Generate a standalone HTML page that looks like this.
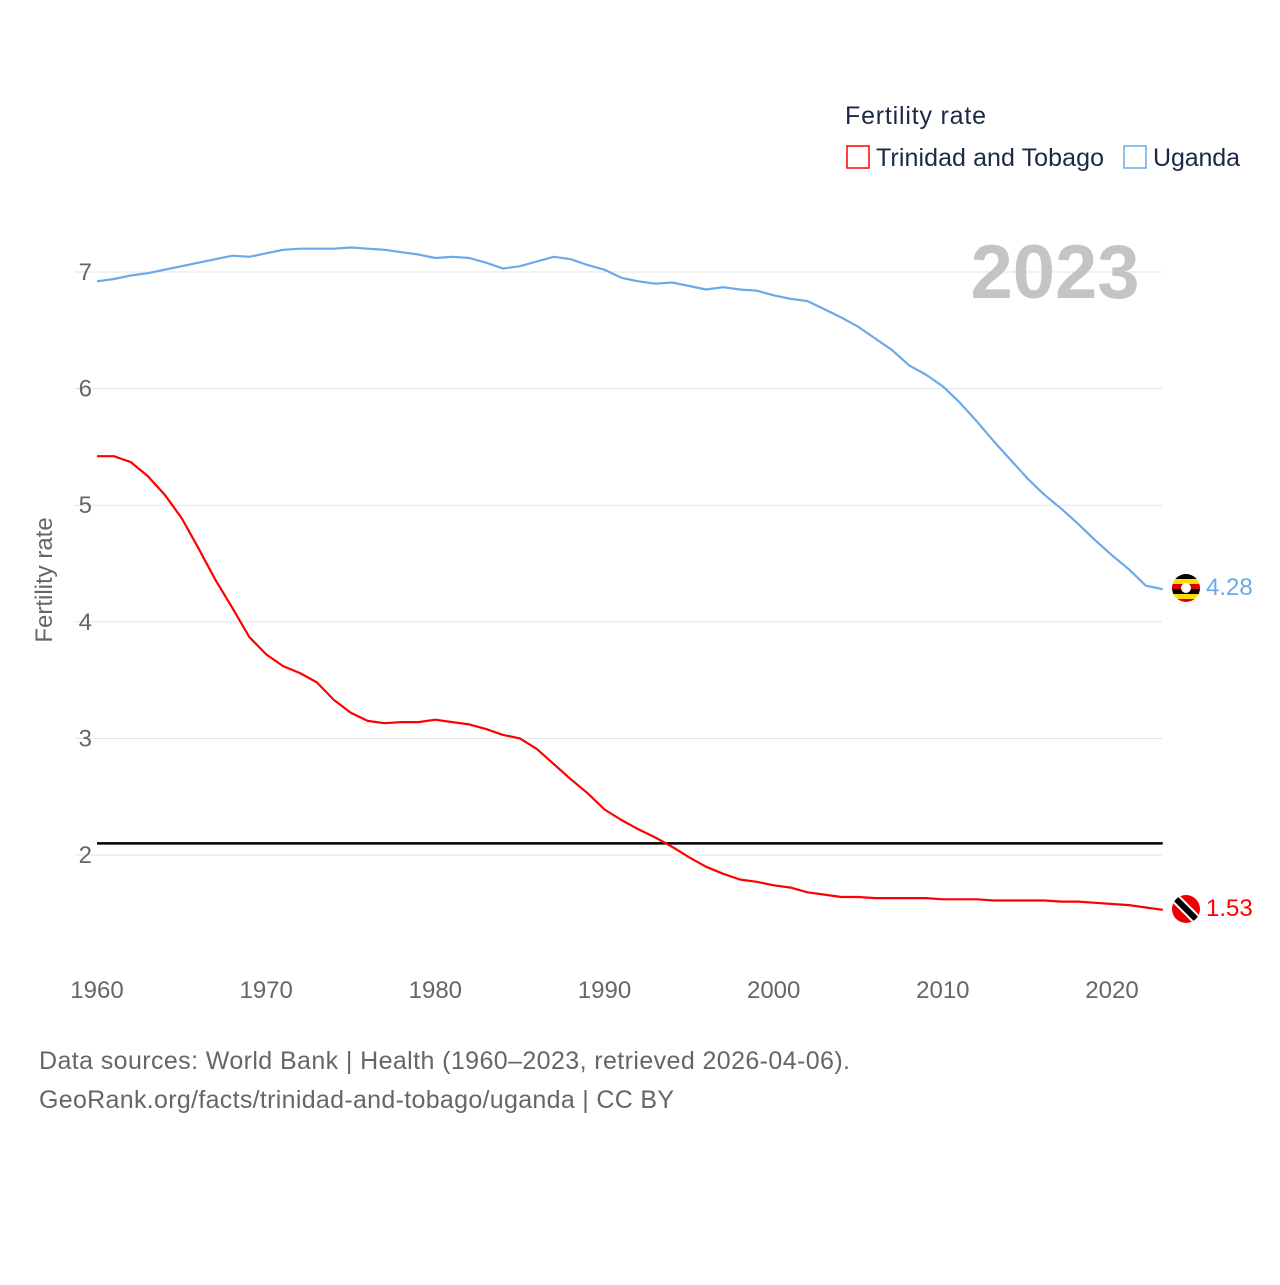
<!DOCTYPE html>
<html><head><meta charset="utf-8"><style>
body{margin:0;background:#fff;font-family:"Liberation Sans",sans-serif}
svg text{font-family:"Liberation Sans",sans-serif}
</style></head><body>
<svg width="1280" height="1280" viewBox="0 0 1280 1280">
<g id="grid"></g>
<g id="xt"></g>
<text x="1055" y="298" font-size="76" font-weight="bold" fill="#c4c4c4" text-anchor="middle">2023</text>
<text x="52" y="580" font-size="24" fill="#666" text-anchor="middle" transform="rotate(-90 52 580)">Fertility rate</text>
<g>
<text x="845" y="124" font-size="25" fill="#1a2a44" textLength="141">Fertility rate</text>
<g><rect x="847" y="146" width="22" height="22" fill="none" stroke="#f00" stroke-width="1.5"/><text x="876" y="166" font-size="25" fill="#1a2a44" textLength="228">Trinidad and Tobago</text></g>
<g><rect x="1124" y="146" width="22" height="22" fill="none" stroke="#6aa9ea" stroke-width="1.5"/><text x="1153" y="166" font-size="25" fill="#1a2a44" textLength="87">Uganda</text></g>
</g>
<g id="series"></g>
<g>
<clipPath id="cu"><circle cx="1186" cy="588" r="14"/></clipPath>
<g clip-path="url(#cu)"><rect x="1170" y="574" width="32" height="5" fill="#000"/><rect x="1170" y="579" width="32" height="5" fill="#fcdc04"/><rect x="1170" y="584" width="32" height="5" fill="#d90000"/><rect x="1170" y="589" width="32" height="5" fill="#000"/><rect x="1170" y="594" width="32" height="5" fill="#fcdc04"/><rect x="1170" y="599" width="32" height="5" fill="#d90000"/><circle cx="1186" cy="588" r="5" fill="#fff"/></g>
<text x="1206" y="595" font-size="24" fill="#6aa9ea">4.28</text>
</g>
<g>
<clipPath id="ct"><circle cx="1186" cy="909" r="14"/></clipPath>
<g clip-path="url(#ct)"><rect x="1170" y="893" width="32" height="32" fill="#e00"/><line x1="1174" y1="897" x2="1198" y2="921" stroke="#fff" stroke-width="10"/><line x1="1174" y1="897" x2="1198" y2="921" stroke="#000" stroke-width="6"/></g>
<text x="1206" y="916" font-size="24" fill="#f00">1.53</text>
</g>
<text x="39" y="1069" font-size="25" fill="#666" textLength="811">Data sources: World Bank | Health (1960–2023, retrieved 2026-04-06).</text>
<text x="39" y="1108" font-size="25" fill="#666" textLength="635">GeoRank.org/facts/trinidad-and-tobago/uganda | CC BY</text>
</svg>
<script>
const years=[];for(let y=1960;y<=2023;y++)years.push(y);
const uganda=[6.92,6.94,6.97,6.99,7.02,7.05,7.08,7.11,7.14,7.13,7.16,7.19,7.20,7.20,7.20,7.21,7.20,7.19,7.17,7.15,7.12,7.13,7.12,7.08,7.03,7.05,7.09,7.13,7.11,7.06,7.02,6.95,6.92,6.90,6.91,6.88,6.85,6.87,6.85,6.84,6.80,6.77,6.75,6.68,6.61,6.53,6.43,6.33,6.20,6.12,6.02,5.88,5.72,5.55,5.39,5.23,5.09,4.97,4.84,4.70,4.57,4.45,4.31,4.28];
const trinidad=[5.42,5.42,5.37,5.25,5.09,4.89,4.63,4.36,4.12,3.87,3.72,3.62,3.56,3.48,3.33,3.22,3.15,3.13,3.14,3.14,3.16,3.14,3.12,3.08,3.03,3.00,2.91,2.78,2.65,2.53,2.39,2.30,2.22,2.15,2.07,1.98,1.90,1.84,1.79,1.77,1.74,1.72,1.68,1.66,1.64,1.64,1.63,1.63,1.63,1.63,1.62,1.62,1.62,1.61,1.61,1.61,1.61,1.60,1.60,1.59,1.58,1.57,1.55,1.53];
const yTicks=[2,3,4,5,6,7];
const xTicks=[1960,1970,1980,1990,2000,2010,2020];
const replacement=2.1;
const NS="http://www.w3.org/2000/svg";
const X=y=>97+(y-1960)*(1112-97)/60;
const Y=v=>855-(v-2)*(855-272)/5;
function mk(tag,attrs,parent,txt){const e=document.createElementNS(NS,tag);for(const k in attrs)e.setAttribute(k,attrs[k]);if(txt!=null)e.textContent=txt;parent.appendChild(e);return e;}
const grid=document.getElementById('grid');
yTicks.forEach(t=>{
 const l=mk('line',{x1:75,x2:1162,y1:Y(t),y2:Y(t),stroke:'#e3e3e3','stroke-width':1},grid);
 
 
 const tx=mk('text',{x:92,y:Y(t)+8,'font-size':24,fill:'#666','text-anchor':'end'},grid,t);
 
 
});
const xt=document.getElementById('xt');
xTicks.forEach(t=>{
 const tx=mk('text',{x:X(t),y:998,'font-size':24,fill:'#666','text-anchor':'middle'},xt,t);
 
 
});
const s=document.getElementById('series');
const ref=mk('line',{x1:X(1960),x2:X(2023),y1:Y(replacement),y2:Y(replacement),stroke:'#000','stroke-width':2.5},s);


function line(data,color,name){
 const d=data.map((v,i)=>(i?'L':'M')+X(years[i]).toFixed(1)+','+Y(v).toFixed(1)).join('');
 const p=mk('path',{d:d,fill:'none',stroke:color,'stroke-width':2.2,'stroke-linejoin':'round'},s);
 
 
}
line(uganda,'#6aa9ea','uganda-line');
line(trinidad,'#f00','trinidad-line');
</script>
</body></html>
